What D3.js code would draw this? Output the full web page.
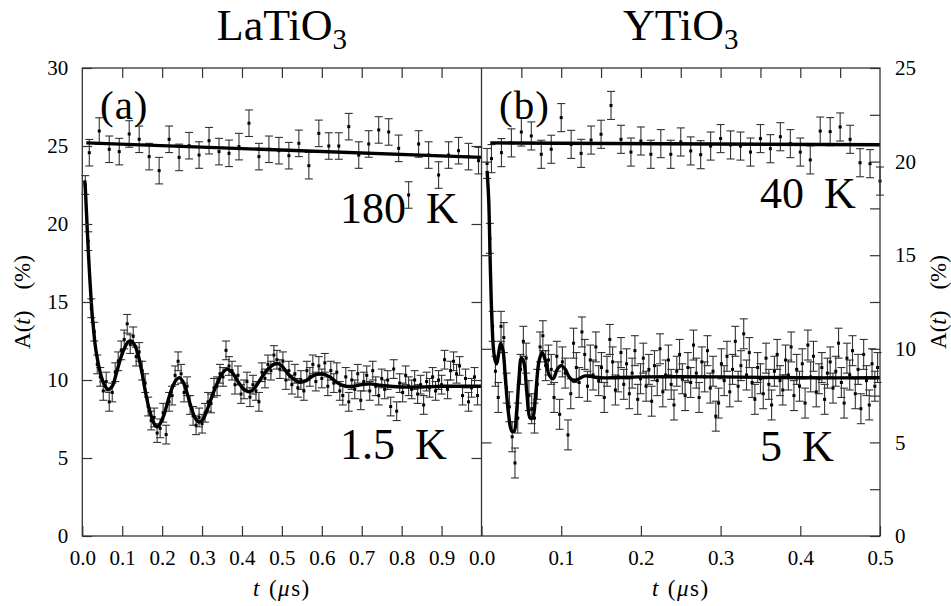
<!DOCTYPE html>
<html><head><meta charset="utf-8">
<script src="https://cdn.jsdelivr.net/npm/d3@7"></script>
<style>
body{margin:0;background:#fff}
</style>
</head><body>
<svg id="c" width="951" height="606"></svg>
<script>
// ---------------- DATA ----------------
const panelTitles = ["LaTiO", "YTiO"];
const panelLetters = ["(a)", "(b)"];
const tempLabelsLeft = ["180 K", "1.5 K"];
const tempLabelsRight = ["40 K", "5 K"];

const leftXTicks = [0, 0.1, 0.2, 0.3, 0.4, 0.5, 0.6, 0.7, 0.8, 0.9];
const leftXTopTicks = [0.1, 0.2, 0.3, 0.4, 0.5, 0.6, 0.7, 0.8, 0.9];
const rightXTicks = [0, 0.1, 0.2, 0.3, 0.4, 0.5];
const rightXTopTicks = [0.05, 0.1, 0.15, 0.2, 0.25, 0.3, 0.35, 0.4, 0.45];
const leftYTicks = [0, 5, 10, 15, 20, 25, 30];
const leftYInnerTicks = [5, 10, 15, 20, 25];
const rightYTicks = [0, 2.5, 5, 7.5, 10, 12.5, 15, 17.5, 20, 22.5, 25];
const rightYLabels = [0, 5, 10, 15, 20, 25];
const rightYInnerTicks = [5, 10, 15, 20];

// LaTiO3, 180 K  (time bins: start, step)
const t180Start = 0.0175, t180Step = 0.025;
const a180 = [24.57, 25.96, 24.79, 24.64, 25.77, 25.43, 24.32, 23.42, 25.43, 24.27,
              25.02, 24.42, 25.34, 24.64, 24.53, 24.96, 26.46, 24.32, 24.79, 24.70,
              24.38, 25.17, 23.74, 25.81, 25.00, 25.00, 26.24, 24.42, 25.13, 26.03,
              25.90, 24.85, 21.86, 25.13, 24.42, 23.14, 24.42, 24.70, 24.32, 24.06];
const err180 = 0.85;
const fit180 = [[0.01, 25.2], [1.0, 24.27]];

// LaTiO3, 1.5 K
const t15Start = 0.0075, t15Step = 0.0075;
const a15 = [22.5, 18.9, 14.6, 13.1, 11.0, 10.2, 9.3, 9.9, 8.6, 9.2,
             10.5, 11.2, 11.9, 12.6, 13.6, 12.3, 12.8, 11.5, 11.8, 10.6,
             9.8, 8.3, 7.4, 7.6, 6.6, 6.9, 7.9, 6.5, 8.6, 9.0,
             10.3, 11.2, 10.4, 9.2, 9.6, 8.4, 7.7, 7.1, 7.6, 7.2,
             7.9, 8.6, 8.5, 9.5, 9.6, 10.4, 10.2, 11.9, 10.9, 10.6,
             9.7, 10.3, 9.1, 9.4, 9.9, 8.9, 9.7, 9.3, 8.6, 10.5,
             10.1, 11.0, 10.6, 11.6, 11.3, 10.7, 11.2, 10.0, 10.6, 9.7,
             10.4, 9.5, 10.0, 9.3, 10.6, 10.2, 11.0, 9.9, 10.9, 10.1,
             11.1, 9.6, 10.6, 9.8, 10.5, 9.3, 9.0, 10.2, 8.6, 10.0,
             9.4, 10.4, 8.7, 9.9, 10.3, 9.3, 10.6, 9.6, 9.0, 10.1,
             9.4, 10.0, 8.3, 10.7, 8.0, 9.8, 9.2, 10.3, 9.6, 9.4,
             10.0, 9.1, 9.7, 8.4, 9.9, 9.5, 10.2, 9.3, 10.0, 9.7,
             11.3, 9.4, 10.6, 11.2, 10.4, 10.9, 9.0, 10.1, 8.6, 9.5,
             10.2, 9.0];
const err15 = 0.6;
const fit15 = [[0.006, 22.8], [0.0075, 22.3], [0.010, 21.0], [0.0125, 19.6], [0.015, 18.3],
               [0.0175, 17.1], [0.020, 16.0], [0.0225, 15.0], [0.025, 14.1], [0.028, 13.3],
               [0.032, 12.3], [0.036, 11.6], [0.042, 10.8], [0.048, 10.2], [0.055, 9.7],
               [0.065, 9.4], [0.075, 9.6], [0.085, 10.4], [0.095, 11.3], [0.105, 12.0],
               [0.115, 12.45], [0.122, 12.5], [0.13, 12.3], [0.14, 11.6], [0.15, 10.4],
               [0.16, 9.0], [0.17, 7.9], [0.18, 7.2], [0.187, 7.0], [0.195, 7.2],
               [0.205, 7.8], [0.215, 8.7], [0.225, 9.5], [0.235, 10.0], [0.243, 10.15],
               [0.252, 9.9], [0.262, 9.2], [0.272, 8.3], [0.282, 7.6], [0.292, 7.3],
               [0.30, 7.4], [0.31, 7.9], [0.32, 8.6], [0.33, 9.3], [0.34, 9.9],
               [0.35, 10.4], [0.362, 10.7], [0.375, 10.5], [0.39, 9.9], [0.405, 9.4],
               [0.42, 9.25], [0.435, 9.6], [0.45, 10.2], [0.465, 10.7], [0.48, 11.0],
               [0.49, 11.05], [0.50, 10.9], [0.515, 10.4], [0.53, 10.05], [0.545, 9.85],
               [0.56, 9.95], [0.58, 10.3], [0.60, 10.4], [0.62, 10.2], [0.64, 9.8],
               [0.66, 9.6], [0.68, 9.6], [0.70, 9.7], [0.72, 9.75], [0.75, 9.65],
               [0.80, 9.55], [0.85, 9.55], [0.90, 9.6], [0.95, 9.6], [1.0, 9.6]];

// YTiO3, 40 K
const t40Start = 0.0125, t40Step = 0.0125;
const a40 = [20.16, 20.48, 21.0, 21.58, 21.37, 20.39, 20.66, 22.35, 20.92, 20.44,
             21.15, 21.46, 23.0, 21.19, 20.51, 21.1, 20.39, 20.96, 20.39, 21.05,
             20.57, 20.37, 20.83, 21.23, 20.89, 20.83, 20.51, 21.23, 20.69, 21.33,
             20.96, 20.51, 20.09, 21.63, 21.6, 21.85, 21.19, 19.94, 19.89, 18.96];
const err40 = 0.75;
const fit40 = [[0.011, 21.0], [0.5, 20.9]];

// YTiO3, 5 K
const t5Start = 0.007, t5Step = 0.0035;
const a5 = [19.9, 15.9, 11.2, 8.8, 7.4, 11.2, 10.6, 7.9, 6.9, 5.3,
            3.9, 6.3, 8.9, 10.4, 9.5, 7.5, 6.8, 6.3, 8.1, 10.1,
            10.7, 9.1, 9.4, 8.9, 7.4, 9.6, 6.5, 9.3, 8.7, 5.4,
            7.6, 10.3, 9.0, 8.2, 10.9, 9.7, 8.0, 9.4, 8.6, 10.1,
            8.3, 9.0, 7.4, 8.8, 10.5, 9.3, 7.8, 8.5, 9.8, 8.1,
            9.2, 7.6, 8.7, 9.9, 7.3, 8.4, 9.5, 8.0, 8.9, 7.2,
            9.1, 8.3, 10.0, 7.7, 8.6, 9.4, 8.1, 7.0, 8.8, 9.7,
            8.4, 7.5, 9.0, 8.2, 10.2, 8.7, 7.4, 9.3, 8.5, 9.9,
            7.9, 8.8, 6.4, 7.1, 9.2, 8.3, 9.6, 7.7, 8.9, 10.4,
            8.0, 9.1, 10.8, 8.6, 9.8, 8.2, 7.3, 9.0, 8.4, 7.6,
            9.5, 8.1, 7.0, 8.8, 9.7, 8.3, 7.8, 9.4, 8.6, 10.1,
            7.5, 8.9, 8.0, 9.2, 7.1, 10.2, 8.5, 9.6, 7.7, 8.4,
            9.0, 7.3, 8.7, 9.3, 7.9, 8.8, 10.3, 8.2, 7.1, 9.5,
            8.6, 9.9, 7.6, 8.9, 6.8, 9.7, 8.3, 7.0, 9.2, 8.0, 9.0];
const err5 = 0.8;
const fit5 = [[0.007, 19.5], [0.009, 18.0], [0.011, 14.5], [0.013, 11.6], [0.015, 10.0],
              [0.017, 9.4], [0.019, 9.2], [0.021, 9.6], [0.024, 10.3], [0.027, 9.9],
              [0.030, 8.4], [0.034, 6.5], [0.038, 5.6], [0.041, 5.6], [0.044, 6.6],
              [0.047, 8.4], [0.050, 9.5], [0.053, 9.3], [0.057, 7.6], [0.061, 6.3],
              [0.064, 6.3], [0.068, 7.6], [0.072, 9.3], [0.076, 9.8], [0.080, 9.4],
              [0.085, 8.6], [0.090, 8.4], [0.095, 8.9], [0.100, 9.1], [0.105, 8.9],
              [0.110, 8.5], [0.115, 8.3], [0.12, 8.35], [0.13, 8.55], [0.14, 8.5],
              [0.15, 8.45], [0.2, 8.5], [0.3, 8.5], [0.4, 8.45], [0.5, 8.45]];

// ---------------- DRAWING ----------------
const FONT = "'Liberation Serif', 'Times New Roman', serif";
const svg = d3.select("#c");
const yTopPx = 68, yBotPx = 536;
const xL = d3.scaleLinear().domain([0, 1]).range([82.3, 481.5]);
const xR = d3.scaleLinear().domain([0, 0.5]).range([481.5, 880]);
const yL = d3.scaleLinear().domain([0, 30]).range([yBotPx, yTopPx]);
const yR = d3.scaleLinear().domain([0, 25]).range([yBotPx, yTopPx]);

const toPts = (start, step, vals) => vals.map((v, i) => [start + step * i, v]);

function drawSeries(x, y, pts, err) {
  const g = svg.append("g");
  const eb = g.selectAll("g.eb").data(pts).enter().append("g");
  eb.append("line")
    .attr("x1", d => x(d[0])).attr("x2", d => x(d[0]))
    .attr("y1", d => y(d[1] - err)).attr("y2", d => y(d[1] + err))
    .attr("stroke", "#333").attr("stroke-width", 1.1);
  [-1, 1].forEach(s => {
    eb.append("line")
      .attr("x1", d => x(d[0]) - 4).attr("x2", d => x(d[0]) + 4)
      .attr("y1", d => y(d[1] + s * err)).attr("y2", d => y(d[1] + s * err))
      .attr("stroke", "#333").attr("stroke-width", 1.1);
  });
  g.selectAll("rect").data(pts).enter().append("rect")
    .attr("x", d => x(d[0]) - 1.5).attr("y", d => y(d[1]) - 1.5)
    .attr("width", 3).attr("height", 3).attr("fill", "#000");
}
function drawFit(x, y, pts) {
  svg.append("path").datum(pts)
    .attr("d", d3.line().x(d => x(d[0])).y(d => y(d[1])).curve(d3.curveCatmullRom.alpha(0.5)))
    .attr("fill", "none").attr("stroke", "#000").attr("stroke-width", 3.4)
    .attr("stroke-linejoin", "round");
}

drawSeries(xL, yL, toPts(t180Start, t180Step, a180), err180);
drawSeries(xL, yL, toPts(t15Start, t15Step, a15), err15);
drawSeries(xR, yR, toPts(t40Start, t40Step, a40), err40);
drawSeries(xR, yR, toPts(t5Start, t5Step, a5), err5);
drawFit(xL, yL, fit180);
drawFit(xL, yL, fit15);
drawFit(xR, yR, fit40);
drawFit(xR, yR, fit5);

// axes
function styleAxis(g) {
  g.attr("font-family", null).attr("font-size", null);
  g.select(".domain").remove();
  g.selectAll(".tick line").attr("stroke", "#333").attr("stroke-width", 1.2);
  g.selectAll("text").style("font-size", "21px").style("font-family", FONT).attr("fill", "#000");
}
svg.append("g").attr("transform", `translate(0,${yBotPx})`)
  .call(d3.axisBottom(xL).tickValues(leftXTicks).tickSizeInner(-10).tickSizeOuter(0).tickPadding(14).tickFormat(d3.format(".1f")))
  .call(styleAxis);
svg.append("g").attr("transform", `translate(0,${yTopPx})`)
  .call(d3.axisTop(xL).tickValues(leftXTopTicks).tickSizeInner(-10).tickSizeOuter(0).tickFormat(""))
  .call(styleAxis);
svg.append("g").attr("transform", `translate(0,${yBotPx})`)
  .call(d3.axisBottom(xR).tickValues(rightXTicks).tickSizeInner(-10).tickSizeOuter(0).tickPadding(14).tickFormat(d3.format(".1f")))
  .call(styleAxis);
svg.append("g").attr("transform", `translate(0,${yTopPx})`)
  .call(d3.axisTop(xR).tickValues(rightXTopTicks).tickSizeInner(-10).tickSizeOuter(0).tickFormat(""))
  .call(styleAxis);
svg.append("g").attr("transform", `translate(${xL(0)},0)`)
  .call(d3.axisLeft(yL).tickValues(leftYTicks).tickSizeInner(-10).tickSizeOuter(0).tickPadding(14).tickFormat(d3.format("d")))
  .call(styleAxis);
svg.append("g").attr("transform", `translate(${xL(1)},0)`)
  .call(d3.axisRight(yL).tickValues(leftYInnerTicks).tickSizeInner(-10).tickSizeOuter(0).tickFormat(""))
  .call(styleAxis);
svg.append("g").attr("transform", `translate(${xR(0)},0)`)
  .call(d3.axisLeft(yR).tickValues(rightYInnerTicks).tickSizeInner(-10).tickSizeOuter(0).tickFormat(""))
  .call(styleAxis);
svg.append("g").attr("transform", `translate(${xR(0.5)},0)`)
  .call(d3.axisRight(yR).tickValues(rightYTicks).tickSizeInner(-10).tickSizeOuter(0).tickPadding(15)
        .tickFormat(d => rightYLabels.includes(d) ? d3.format("d")(d) : ""))
  .call(styleAxis);

// frame
svg.append("rect").attr("x", xL(0)).attr("y", yTopPx).attr("width", xR(0.5) - xL(0)).attr("height", yBotPx - yTopPx)
  .attr("fill", "none").attr("stroke", "#333").attr("stroke-width", 1.3);
svg.append("line").attr("x1", xR(0)).attr("x2", xR(0)).attr("y1", yTopPx).attr("y2", yBotPx)
  .attr("stroke", "#333").attr("stroke-width", 1.3);

// titles
const centers = [(xL(0) + xL(1)) / 2, (xR(0) + xR(0.5)) / 2];
panelTitles.forEach((t, i) => {
  const tx = svg.append("text").attr("x", centers[i]).attr("y", 40).attr("text-anchor", "middle")
    .style("font-size", "44px");
  tx.append("tspan").text(t);
  tx.append("tspan").attr("dy", 9).style("font-size", "29px").text("3");
});
// panel letters
svg.append("text").attr("x", 100).attr("y", 119).style("font-size", "41px").style("letter-spacing", "1px").text(panelLetters[0]);
svg.append("text").attr("x", 499).attr("y", 119).style("font-size", "41px").style("letter-spacing", "1px").text(panelLetters[1]);
// temperature labels
const tl = (x, y, s) => svg.append("text").attr("x", x).attr("y", y).style("font-size", "44px")
  .style("word-spacing", "9px").text(s);
tl(340, 223, tempLabelsLeft[0]);
tl(340, 459, tempLabelsLeft[1]);
tl(760, 208, tempLabelsRight[0]);
tl(760, 461, tempLabelsRight[1]);

// axis titles
function yTitle(x, y) {
  const t = svg.append("text").attr("transform", `translate(${x},${y}) rotate(-90)`)
    .attr("text-anchor", "middle").style("font-size", "23px");
  t.append("tspan").text("A(");
  t.append("tspan").style("font-style", "italic").text("t");
  t.append("tspan").text(")");
  t.append("tspan").attr("dx", 21).text("(%)");
}
yTitle(30, 302);
yTitle(946, 302);
function xTitle(x) {
  const t = svg.append("text").attr("x", x).attr("y", 596).attr("text-anchor", "middle")
    .style("font-size", "23px").style("letter-spacing", "1.5px");
  t.append("tspan").style("font-style", "italic").text("t");
  t.append("tspan").attr("dx", 8).text("(");
  t.append("tspan").style("font-style", "italic").text("\u03bc");
  t.append("tspan").text("s)");
}
xTitle(centers[0]);
xTitle(centers[1]);

svg.selectAll("text").style("font-family", FONT).attr("fill", "#000");
</script>
</body></html>
